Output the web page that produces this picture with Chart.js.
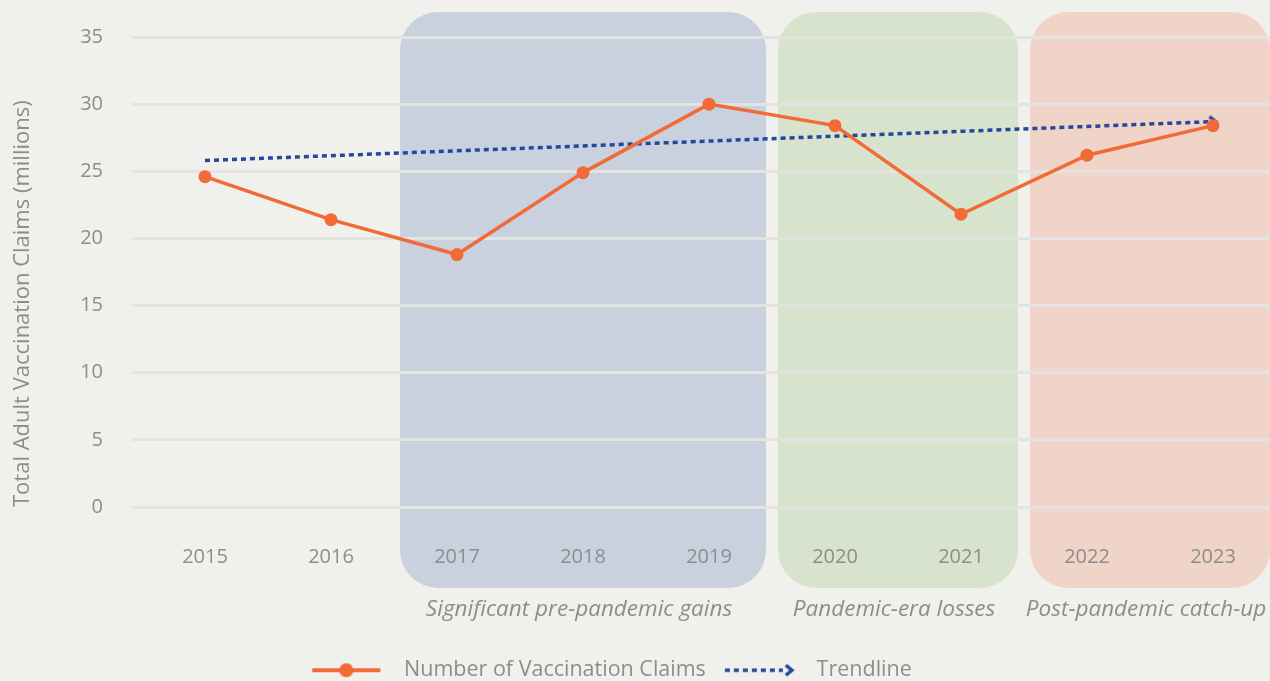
<!DOCTYPE html>
<html><head><meta charset="utf-8">
<script src="https://cdn.jsdelivr.net/npm/chart.js@4.4.1/dist/chart.umd.min.js"></script>
<style>
html,body{margin:0;padding:0;background:#f0f0ec;overflow:hidden;width:1270px;height:681px}
#wrap{position:absolute;left:0;top:0;width:1290px;height:691px}
</style>
</head><body><div id="wrap"><canvas id="c" width="1290" height="691"></canvas></div>
<script>
// ---- data ----
const years = ['2015','2016','2017','2018','2019','2020','2021','2022','2023'];
const claims = [24.6, 21.4, 18.8, 24.9, 30.0, 28.4, 21.8, 26.2, 28.4];
const trendYears = ['2015','2023'];
const trendValues = [25.8, 28.7];
const yTicks = [0, 5, 10, 15, 20, 25, 30, 35];
const periodLabels = ['Significant pre-pandemic gains','Pandemic-era losses','Post-pandemic catch-up'];
const periodStart = ['2017','2020','2022'];
const periodEnd = ['2019','2021','2023'];
const seriesNames = ['Number of Vaccination Claims','Trendline'];
const yTitle = 'Total Adult Vaccination Claims (millions)';

// ---- styles ----
const FONT = '"Open Sans"';
const GRAY = '#8d8d8d';
const ORANGE = '#f26a36';
const BLUE = '#24489c';
const GRID = '#e3e3e1';
const BAND_COLORS = ['#c9d0de','#d8e3cd','#f0d4c7'];
const LEGEND_SHIFT = 65;

function chevron(w,h,lw){
  const c=document.createElement('canvas'); c.width=w; c.height=h;
  const g=c.getContext('2d'); g.strokeStyle=BLUE; g.lineWidth=lw; g.lineJoin='miter'; g.lineCap='butt';
  g.beginPath(); g.moveTo(2,2); g.lineTo(w-3,h/2); g.lineTo(2,h-2); g.stroke();
  return c;
}
const arrowHead = chevron(11,14,3.5);

function iconLine(){
  const c=document.createElement('canvas'); c.width=94; c.height=18;
  const g=c.getContext('2d');
  g.strokeStyle=ORANGE; g.lineWidth=4; g.beginPath(); g.moveTo(13,9); g.lineTo(81,9); g.stroke();
  g.fillStyle=ORANGE; g.beginPath(); g.arc(47,9,7,0,Math.PI*2); g.fill();
  return c;
}
function iconTrend(){
  const c=document.createElement('canvas'); c.width=94; c.height=18;
  const g=c.getContext('2d');
  g.strokeStyle=BLUE; g.lineWidth=3.5; g.setLineDash([5,4]); g.beginPath(); g.moveTo(13,9); g.lineTo(71,9); g.stroke();
  g.setLineDash([]); g.drawImage(chevron(11,14,3.5),72,2);
  return c;
}
const legendIcons=[iconLine(), iconTrend()];

const bandPlugin = {
  id:'bands',
  afterLayout(chart){
    if (chart.legend) { chart.legend.right -= LEGEND_SHIFT; chart.legend.width -= LEGEND_SHIFT; }
  },
  beforeDraw(chart){
    const {ctx, chartArea, scales:{x}} = chart;
    const half = (x.getPixelForValue(1)-x.getPixelForValue(0))/2;
    const inset = 6;
    const top = chartArea.top - 25, bottom = chartArea.bottom + 81;
    periodLabels.forEach((lab,i)=>{
      const l = x.getPixelForValue(years.indexOf(periodStart[i])) - half + inset;
      const r = x.getPixelForValue(years.indexOf(periodEnd[i])) + half - inset;
      ctx.save();
      ctx.fillStyle = BAND_COLORS[i];
      ctx.beginPath(); ctx.roundRect(l, top, r-l, bottom-top, 38); ctx.fill();
      ctx.fillStyle = GRAY; ctx.font = 'italic 22.5px '+FONT;
      ctx.textAlign='center'; ctx.textBaseline='middle';
      ctx.fillText(lab, (l+r)/2 - 4, chartArea.bottom + 103);
      ctx.restore();
    });
  }
};

new Chart(document.getElementById('c'), {
  type:'line',
  data:{
    labels: years,
    datasets:[
      {label: seriesNames[0], data: claims, borderColor: ORANGE, backgroundColor: ORANGE,
       borderWidth: 3.5, pointRadius: 6.5, pointHoverRadius: 6.5, pointBackgroundColor: ORANGE,
       pointBorderWidth: 0, tension: 0},
      {label: seriesNames[1], data: trendYears.map((y,i)=>({x:y, y:trendValues[i]})),
       borderColor: BLUE, borderWidth: 3.5, borderDash:[5,4], borderCapStyle:'butt',
       pointStyle:[false, arrowHead], pointRadius:[0,7], pointHoverRadius:[0,7], tension:0}
    ]
  },
  options:{
    responsive:false, animation:false, devicePixelRatio:1,
    layout:{padding:{top:37, left:0, right:14, bottom:0}},
    plugins:{
      tooltip:{enabled:false},
      legend:{
        position:'bottom',
        labels:{
          usePointStyle:true, pointStyleWidth:94, boxHeight:18, padding:6,
          color: GRAY, font:{family:FONT, size:21.5},
          generateLabels: chart => seriesNames.map((t,i)=>({
            text:t, pointStyle: legendIcons[i], fillStyle:'transparent', strokeStyle:'transparent',
            lineWidth:0, hidden:false, datasetIndex:i, fontColor: GRAY
          }))
        }
      }
    },
    scales:{
      x:{
        type:'category', offset:true,
        grid:{display:false}, border:{display:false},
        ticks:{color:GRAY, font:{family:FONT, size:20}, padding:30},
        afterFit: s => { s.height = 146.5; }
      },
      y:{
        min:0, max:35,
        afterBuildTicks: s => { s.ticks = yTicks.map(v=>({value:v})); },
        grid:{color:GRID, lineWidth:3, tickLength:10, drawTicks:true},
        border:{display:false},
        ticks:{color:GRAY, font:{family:FONT, size:20}, padding:29},
        title:{display:true, text:yTitle, align:'start', color:GRAY, font:{family:FONT, size:22}, padding:{top:10,bottom:0}},
        afterFit: s => { s.width = 142; s.paddingTop = 0; s.paddingBottom = 0; }
      }
    }
  },
  plugins:[bandPlugin]
});
</script>
</body></html>
